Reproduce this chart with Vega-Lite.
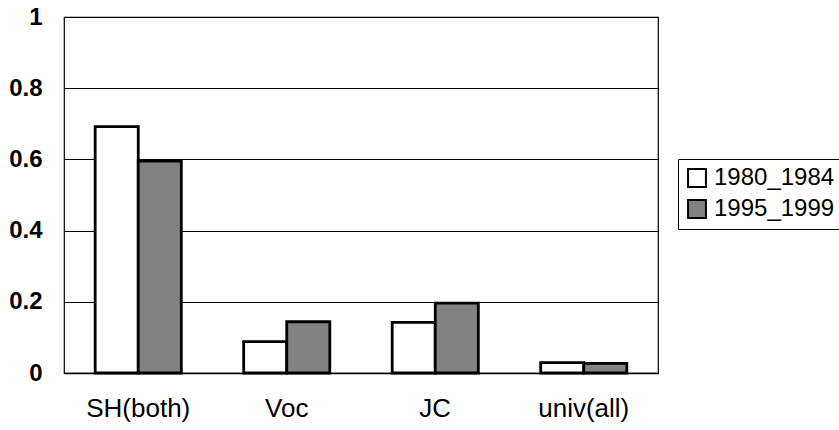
{
  "$schema": "https://vega.github.io/schema/vega-lite/v6.json",
  "autosize": {"type": "none"},
  "padding": {"left": 64, "top": 17, "right": 181, "bottom": 57},
  "width": 594,
  "height": 356,
  "background": "white",
  "data": {"values": [
    {"category": "SH(both)", "period": "1980_1984", "value": 0.692},
    {"category": "SH(both)", "period": "1995_1999", "value": 0.595},
    {"category": "Voc", "period": "1980_1984", "value": 0.088},
    {"category": "Voc", "period": "1995_1999", "value": 0.144},
    {"category": "JC", "period": "1980_1984", "value": 0.142},
    {"category": "JC", "period": "1995_1999", "value": 0.196},
    {"category": "univ(all)", "period": "1980_1984", "value": 0.029},
    {"category": "univ(all)", "period": "1995_1999", "value": 0.027}
  ]},
  "mark": {"type": "bar", "stroke": "black", "strokeWidth": 2.8},
  "encoding": {
    "x": {
      "field": "category", "type": "nominal",
      "sort": ["SH(both)", "Voc", "JC", "univ(all)"],
      "scale": {"paddingInner": 0.42, "paddingOuter": 0.21},
      "axis": {"title": null, "labelAngle": 0, "ticks": false, "labelPadding": 22, "labelFontSize": 26, "labelFont": "Liberation Sans", "labelColor": "black", "domainColor": "black", "domainWidth": 1.5}
    },
    "xOffset": {"field": "period", "type": "nominal"},
    "y": {
      "field": "value", "type": "quantitative",
      "scale": {"domain": [0, 1], "nice": false},
      "axis": {"title": null, "values": [0, 0.2, 0.4, 0.6, 0.8, 1], "format": "~g", "ticks": false, "domain": false, "labelPadding": 22, "labelFontSize": 24, "labelFontWeight": "bold", "labelFont": "Liberation Sans", "labelColor": "black", "gridColor": "black", "gridWidth": 1.2, "gridOpacity": 1}
    },
    "fill": {
      "field": "period", "type": "nominal",
      "scale": {"range": ["white", "#828282"]},
      "legend": {
        "title": null, "orient": "none", "legendX": 614, "legendY": 142,
        "strokeColor": "black", "padding": 7,
        "labelFontSize": 24, "labelFont": "Liberation Sans", "labelColor": "black",
        "symbolType": "square", "symbolSize": 320, "symbolStrokeColor": "black", "symbolStrokeWidth": 2,
        "rowPadding": 5, "labelOffset": 5
      }
    }
  },
  "config": {
    "view": {"stroke": "black", "strokeWidth": 1.2}
  }
}
